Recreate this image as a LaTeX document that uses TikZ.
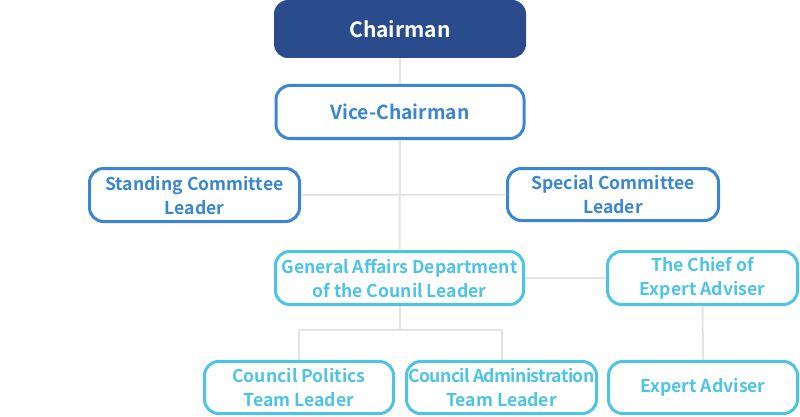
\documentclass[tikz,border=0pt]{standalone}
\usepackage{fontspec}
\setmainfont{Noto Sans CJK KR}[BoldFont={Noto Sans CJK KR Bold}]
\definecolor{chairblue}{HTML}{2B4C8C}
\definecolor{midblue}{HTML}{3A86D2}
\definecolor{skyblue}{HTML}{4EC4E5}
\definecolor{linkgray}{HTML}{E3E3E3}
\tikzset{boss/.style = {fill=chairblue, text=white, rounded corners=14pt,
                        minimum width=252pt, minimum height=58pt,
                        font=\bfseries\fontsize{21}{25}\selectfont},
         post/.style = {draw=#1, text=#1, fill=white, line width=3pt,
                        rounded corners=14pt, align=center, inner sep=0pt,
                        font=\bfseries\fontsize{17.6}{24}\selectfont},
         post/.default=midblue,
         link/.style = {draw=linkgray, line width=2pt}
        }

\begin{document}
\begin{tikzpicture}[x=1pt, y=-1pt]
  \useasboundingbox (0, 0) rectangle (800, 417);
  \node[boss] (chair) at (400, 29) {Chairman};
  \node[post, minimum width=248pt, minimum height=53pt, font=\bfseries\fontsize{19.3}{24}\selectfont] (vice) at (400, 112) {Vice-Chairman};
  \node[post, minimum width=210pt, minimum height=53pt] (stand) at (194.5, 195) {Standing Committee\\Leader};
  \node[post, minimum width=211pt, minimum height=52pt] (spec) at (613, 194.5) {Special Committee\\Leader};
  \node[post=skyblue, minimum width=248pt, minimum height=53pt] (gen) at (399.5, 278) {General Affairs Department\\of the Counil Leader};
  \node[post=skyblue, minimum width=190pt, minimum height=53pt] (chief) at (702.5, 278) {The Chief of\\Expert Adviser};
  \node[post=skyblue, minimum width=189pt, minimum height=52pt] (cpol) at (299, 387.5) {Council Politics\\Team Leader};
  \node[post=skyblue, minimum width=190pt, minimum height=52pt] (cadm) at (501.5, 387.5) {\addfontfeature{LetterSpace=-3.7}Council Administration\\Team Leader};
  \node[post=skyblue, minimum width=189pt, minimum height=52pt] (expert) at (703, 387.5) {Expert Adviser};
  \draw[link] (chair) -- (vice);
  \draw[link] (vice) -- (gen);
  \draw[link] (stand) -- (spec);
  \draw[link] (gen) -- (chief);
  \draw[link] (gen.south) -- ++(0, 24) coordinate (fork);
  \draw[link] (cpol.north) |- (fork) -| (cadm.north);
  \draw[link] (chief) -- (expert);
\end{tikzpicture}
\end{document}
